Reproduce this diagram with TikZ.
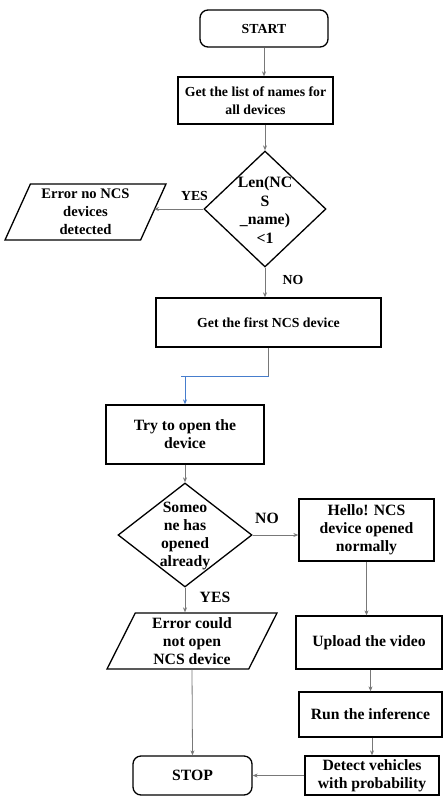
\documentclass[tikz,border=0pt]{standalone}
\usepackage{fontspec}
\setmainfont{Liberation Serif}
\usetikzlibrary{shapes.geometric,arrows.meta}

\definecolor{linkgray}{RGB}{120,120,120}
\definecolor{linkblue}{RGB}{70,125,205}

\tikzset{
  x=1pt, y=-1pt,
  every node/.style={font=\fontsize{15.7}{18}\selectfont\bfseries, inner sep=0pt, align=center},
  smalltext/.style={font=\fontsize{13.8}{18}\selectfont\bfseries},
  midtext/.style={font=\fontsize{14.6}{18}\selectfont\bfseries},
  procbox/.style={draw=black, line width=1.3pt, rectangle},
  termbox/.style={draw=black, line width=1.3pt, rectangle, rounded corners=8pt},
  iobox/.style={draw=black, line width=1.3pt, trapezium, trapezium stretches body},
  decbox/.style={draw=black, line width=1.3pt, diamond},
  flow/.style={draw=linkgray, line width=0.8pt, -{Stealth[length=5pt,width=4pt]}},
  flowline/.style={draw=linkgray, line width=0.8pt},
  blueflow/.style={draw=linkblue, line width=0.9pt}
}

\begin{document}
\begin{tikzpicture}
  \useasboundingbox (0,0) rectangle (443,796);
  \fill[white] (0,0) rectangle (443,796);

  % main column
  \node[termbox, smalltext, minimum width=128pt, minimum height=37pt] (start) at (264,28.5) {START};
  \node[procbox, smalltext, minimum width=155pt, minimum height=47pt] (list) at (255.5,100.5)
    {Get the list of names for\\all devices};
  \node[decbox, minimum width=122pt, minimum height=116pt] (dec1) at (265,209) {};
  \node[font=\fontsize{15.8}{18.6}\selectfont\bfseries] (dec1t) at (265,210) {Len(NC\\S\\\_name)\\<1};
  \node[iobox, midtext, trapezium left angle=61, trapezium right angle=119,
        minimum width=161pt, minimum height=56pt] (err1) at (85.5,212)
    {Error no NCS\\devices\\detected};
  \node[procbox, smalltext, minimum width=225pt, minimum height=49pt] (first) at (268.5,322.5)
    {Get the first NCS device};
  \node[procbox, minimum width=158pt, minimum height=59pt] (try) at (185,434.5)
    {Try to open the\\device};
  \node[decbox, minimum width=134pt, minimum height=104pt] (dec2) at (185,535) {};
  \node (dec2t) at (185,536) {Someo\\ne has\\opened\\already};
  \node[procbox, minimum width=135pt, minimum height=62pt] (hello) at (366.5,530)
    {Hello! NCS\\device opened\\normally};
  \node[iobox, trapezium left angle=59, trapezium right angle=121,
        minimum width=170pt, minimum height=56pt] (err2) at (192,641)
    {Error could\\not open\\NCS device};
  \node[procbox, minimum width=146pt, minimum height=53pt] (upload) at (369,642.5)
    {Upload the video};
  \node[procbox, minimum width=143pt, minimum height=45pt] (run) at (370.5,714.5)
    {Run the inference};
  \node[procbox, font=\fontsize{15.7}{17.5}\selectfont\bfseries,
        minimum width=134pt, minimum height=39pt] (detect) at (372,775.5)
    {Detect vehicles\\with probability};
  \node[termbox, minimum width=119pt, minimum height=39pt] (stop) at (192.5,775.5) {STOP};

  % branch labels
  \node[smalltext] (yes1) at (194.5,196) {YES};
  \node[smalltext] (no1) at (293,280) {NO};
  \node (no2) at (267,518) {NO};
  \node (yes2) at (215,597) {YES};

  % junction below the first-device box
  \coordinate (j1) at (268.5,376);
  \coordinate (j2) at (181,376);
  \coordinate (j3) at (185,376);

  % connectors
  \draw[flow] (start.south) -- (start.south |- list.north);
  \draw[flow] (dec1.north |- list.south) -- (dec1.north);
  \draw[flow] (dec1.west) -- (dec1.west -| err1.east);
  \draw[flow] (dec1.south) -- (dec1.south |- first.north);
  \draw[flowline] (first.south) -- (j1);
  \draw[blueflow] (j1) -- (j2);
  \draw[blueflow, -{Stealth[length=5pt,width=4pt]}] (j3) -- (try.north);
  \draw[flow] (try.south) -- (dec2.north);
  \draw[flow] (dec2.east) -- (dec2.east -| hello.west);
  \draw[flow] (dec2.south) -- (dec2.south |- err2.north);
  \draw[flow] (hello.south) -- (hello.south |- upload.north);
  \draw[flow] (run.north |- upload.south) -- (run.north);
  \draw[flow] (detect.north |- run.south) -- (detect.north);
  \draw[flow] (detect.west) -- (stop.east);
  \draw[flow] (err2.south) -- (stop.north);
\end{tikzpicture}
\end{document}
